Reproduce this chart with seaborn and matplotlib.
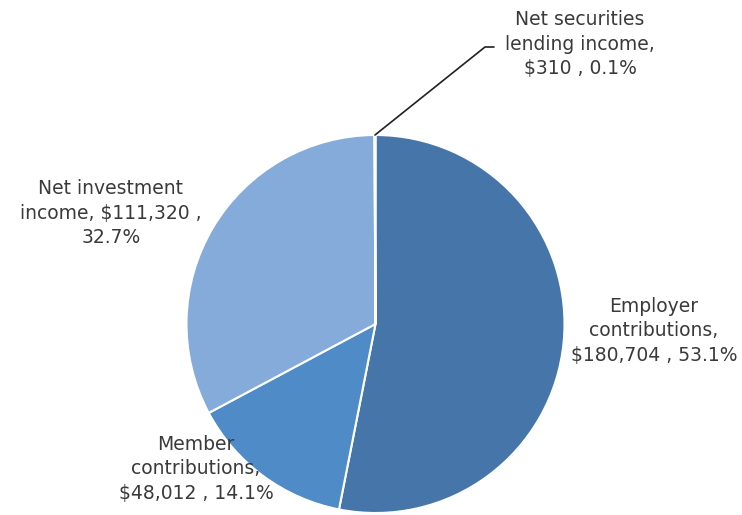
import matplotlib
matplotlib.use("Agg")
import matplotlib.pyplot as plt
import seaborn as sns

# Revenue sources (dollars, thousands)
categories = ["Employer contributions", "Member contributions",
              "Net investment income", "Net securities lending income"]
amounts = [180704, 48012, 111320, 310]
label_lines = [
    "Employer\ncontributions,\n$180,704 , 53.1%",
    "Member\ncontributions,\n$48,012 , 14.1%",
    "Net investment\nincome, $111,320 ,\n32.7%",
    "Net securities\nlending income,\n$310 , 0.1%",
]

sns.set_theme(style="white")
plt.rcParams["font.family"] = ["DejaVu Sans"]

colors = sns.color_palette(["#4676A9", "#4F8BC6", "#84ABDA", "#A9C4E6"])

W, H = 742, 515
fig = plt.figure(figsize=(W / 100, H / 100), dpi=100)
fig.patch.set_facecolor("white")

cx, cy, R = 375.5, 324, 189
ax = fig.add_axes([(cx - R) / W, (H - cy - R) / H, 2 * R / W, 2 * R / H])
ax.pie(amounts, colors=colors, startangle=90, counterclock=False, radius=1,
       wedgeprops=dict(edgecolor="white", linewidth=1.5))
ax.set_xlim(-1, 1)
ax.set_ylim(-1, 1)
ax.set_aspect("equal")
ax.axis("off")

def fpos(px, py):
    return px / W, 1 - py / H

text_kw = dict(ha="center", va="center", fontsize=13.5, color="#3a3a3a",
               linespacing=1.38)
label_px = [(654, 331), (196, 469), (111, 213), (580, 44)]
for txt, (px, py) in zip(label_lines, label_px):
    fig.text(*fpos(px, py), txt, **text_kw)

# leader line for the thin slice
xs = [375, 485, 494]
ys = [135, 47, 47]
fig.add_artist(plt.Line2D([x / W for x in xs], [1 - y / H for y in ys],
                          color="#202020", linewidth=1.2))

fig.savefig("out.png", dpi=100, facecolor="white")
